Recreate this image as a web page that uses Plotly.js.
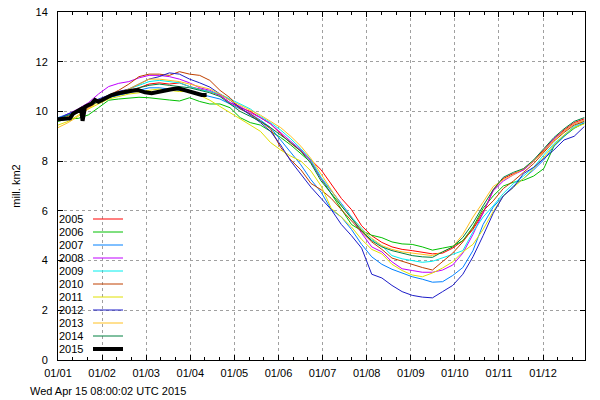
<!DOCTYPE html>
<html>
<head>
<meta charset="utf-8">
<script src="https://cdn.plot.ly/plotly-3.0.1.min.js"></script>
<style>html,body{margin:0;padding:0;background:#fff;}#chart{width:600px;height:400px;}</style>
</head>
<body>
<div id="chart"></div>
<script>
// Day of year (x), sampled weekly
const days = [0,7,14,21,28,35,42,49,56,63,70,77,84,91,98,105,112,119,126,133,140,147,154,161,168,175,182,189,196,203,210,217,224,231,238,245,252,259,266,273,280,287,294,301,308,315,322,329,336,343,350,357,364];

const y2005 = [9.7,9.85,10.0,10.2,10.4,10.6,10.75,10.85,10.95,11.1,11.15,11.1,11.15,11.0,10.9,10.8,10.65,10.35,10.15,10.0,9.75,9.5,9.1,8.72,8.4,8.05,7.65,7.05,6.5,6.05,5.4,5.0,4.73,4.55,4.45,4.4,4.33,4.27,4.3,4.5,4.8,5.25,5.9,6.85,7.3,7.5,7.65,8.0,8.45,8.9,9.25,9.55,9.7];
const y2006 = [9.6,9.7,9.72,9.86,10.15,10.45,10.5,10.55,10.57,10.55,10.52,10.46,10.42,10.55,10.4,10.3,10.3,10.15,9.75,9.55,9.45,9.2,8.95,8.65,8.3,7.95,7.3,6.7,6.05,5.45,5.2,5.02,4.92,4.75,4.67,4.65,4.55,4.42,4.5,4.58,4.8,5.35,6.1,6.6,7.0,7.15,7.23,7.4,7.7,8.6,9.0,9.32,9.53];
const y2007 = [9.75,9.9,10.05,10.2,10.4,10.55,10.65,10.75,10.85,10.95,10.95,10.9,10.85,10.8,10.7,10.6,10.5,10.3,10.1,9.9,9.65,9.35,8.85,8.35,7.85,7.25,6.75,6.05,5.75,5.25,4.65,4.15,3.85,3.65,3.5,3.35,3.25,3.13,3.15,3.4,3.72,4.4,5.45,6.15,6.6,7.0,7.3,7.65,8.05,8.6,9.0,9.35,9.55];
const y2008 = [9.7,9.9,10.1,10.35,10.7,11.0,11.13,11.2,11.35,11.45,11.45,11.4,11.3,11.15,10.95,10.85,10.65,10.35,10.2,9.95,9.75,9.5,9.15,8.8,8.45,8.0,7.3,6.8,6.3,5.75,5.1,4.55,4.35,3.95,3.67,3.6,3.53,3.53,3.62,3.82,4.3,5.05,5.9,6.8,7.2,7.45,7.65,8.0,8.4,8.9,9.2,9.5,9.65];
const y2009 = [9.7,9.85,10.05,10.25,10.45,10.6,10.75,10.9,11.05,11.2,11.25,11.2,11.15,11.0,10.88,10.8,10.7,10.5,10.3,10.1,9.8,9.55,9.25,8.9,8.5,8.05,7.35,6.8,6.25,5.75,5.3,4.85,4.6,4.2,4.07,4.0,3.93,3.97,4.1,4.25,4.4,5.15,5.75,6.2,6.7,7.1,7.4,7.75,8.25,8.7,9.05,9.4,9.6];
const y2010 = [9.65,9.8,9.95,10.15,10.4,10.65,10.85,11.1,11.4,11.5,11.5,11.45,11.6,11.5,11.45,11.25,10.85,10.55,10.1,9.9,9.6,9.3,8.55,8.05,7.65,7.1,6.85,6.5,6.05,5.6,5.15,4.75,4.45,4.1,3.97,3.85,3.72,3.62,3.95,4.3,4.75,5.3,6.0,6.4,6.9,7.2,7.55,7.9,8.35,8.8,9.15,9.45,9.6];
const y2011 = [9.45,9.6,9.85,10.1,10.3,10.5,10.6,10.7,10.75,10.85,10.9,10.85,10.8,10.8,10.65,10.45,10.2,9.95,9.7,9.45,9.2,8.75,8.45,8.2,8.0,7.6,7.0,6.1,5.75,5.35,4.85,4.45,4.27,3.85,3.6,3.42,3.35,3.5,3.7,3.95,4.35,4.65,5.25,5.97,6.6,6.95,7.3,7.7,8.15,8.65,9.05,9.35,9.5];
const y2012 = [9.7,9.9,10.05,10.3,10.5,10.65,10.8,10.9,11.1,11.3,11.4,11.55,11.5,11.3,11.15,10.98,10.7,10.45,10.15,9.85,9.55,9.2,8.65,8.0,7.45,6.95,6.5,6.05,5.45,5.0,4.5,3.45,3.3,3.0,2.75,2.6,2.53,2.5,2.75,3.0,3.45,4.15,5.0,5.9,6.6,6.95,7.5,7.75,8.1,8.45,8.85,9.0,9.39];
const y2013 = [9.35,9.55,9.8,10.1,10.4,10.6,10.75,10.9,11.1,11.3,11.3,11.25,11.2,11.1,11.0,10.9,10.7,10.45,10.25,10.05,9.85,9.6,9.35,9.0,8.6,8.1,7.5,6.85,6.2,5.7,5.25,4.9,4.6,4.45,4.35,4.3,4.25,4.2,4.35,4.55,5.05,5.75,6.35,6.98,7.25,7.45,7.7,8.0,8.4,8.85,9.2,9.5,9.65];
const y2014 = [9.7,9.85,10.0,10.2,10.4,10.55,10.7,10.8,10.95,11.05,11.1,11.05,11.0,10.95,10.85,10.75,10.6,10.3,10.0,9.8,9.6,9.35,9.05,8.75,8.4,7.9,7.2,6.7,6.2,5.7,5.2,4.8,4.55,4.4,4.3,4.2,4.15,4.13,4.35,4.55,4.93,5.5,6.2,6.85,7.35,7.55,7.7,8.05,8.5,8.95,9.3,9.6,9.75];

// 2015 (to mid April), denser sampling
const days2015 = [0,2.6,5.5,8.3,10.6,14,16,17,18.7,20.7,23.3,25.6,27.9,30.2,32.5,34.6,37.1,41.7,46.3,51,55.5,60.2,64.8,69.4,74,78.6,83.2,87.8,90.1,94.8,99.4,102.8];
const y2015 = [9.68,9.68,9.70,9.72,9.92,10.06,10.1,9.62,10.19,10.25,10.32,10.46,10.39,10.45,10.53,10.6,10.66,10.73,10.79,10.83,10.86,10.77,10.73,10.79,10.86,10.89,10.93,10.86,10.79,10.73,10.66,10.66];

const years = ['2005','2006','2007','2008','2009','2010','2011','2012','2013','2014','2015'];
const colors = ['#ff0000','#00c000','#0080ff','#c000ff','#00eeee','#c04000','#e0e000','#1c1cc8','#ffc020','#008040','#000000'];
const widths = [1,1,1,1,1,1,1,1,1,1,4];
const series = [y2005,y2006,y2007,y2008,y2009,y2010,y2011,y2012,y2013,y2014,y2015];

const tickText = ['01/01','01/02','01/03','01/04','01/05','01/06','01/07','01/08','01/09','01/10','01/11','01/12'];
const monthStep = 30.5;
const tickVals = tickText.map((_, i) => i * monthStep);
const minorVals = [];
for (let i = 0; i < 36; i++) { if (i % 3 !== 0) minorVals.push(i * monthStep / 3); }

const traces = series.map((ys, i) => ({
  x: i === 10 ? days2015 : days,
  y: ys,
  type: 'scatter',
  mode: 'lines',
  name: years[i],
  line: {color: colors[i], width: widths[i]},
  hoverinfo: 'skip'
}));

const font = {family: 'Liberation Sans, Arial, sans-serif', size: 11, color: '#000'};
const L = 58, R = 585, T = 12, B = 360;
const pw = R - L, ph = B - T;

const annotations = years.map((yr, i) => ({
  text: yr, xref: 'paper', yref: 'paper',
  x: (84.5 - L) / pw, y: (B - (219 + 13 * i)) / ph,
  xanchor: 'right', yanchor: 'middle', showarrow: false, font: font
}));
annotations.push({
  text: 'Wed Apr 15 08:00:02 UTC 2015', xref: 'paper', yref: 'paper',
  x: (28 - L) / pw, y: (B - 391) / ph, xanchor: 'left', yanchor: 'middle',
  showarrow: false, font: font
});

const shapes = years.map((yr, i) => ({
  type: 'line', xref: 'paper', yref: 'paper',
  x0: (93 - L) / pw, x1: (123 - L) / pw,
  y0: (B - (219 + 13 * i)) / ph, y1: (B - (219 + 13 * i)) / ph,
  line: {color: colors[i], width: widths[i]}
}));

const axisCommon = {
  showline: true, linecolor: '#000', linewidth: 1, mirror: 'allticks',
  ticks: 'inside', ticklen: 5, tickcolor: '#000', tickwidth: 1,
  showgrid: true, gridcolor: '#a0a0a0', griddash: '3px,3px', gridwidth: 1,
  zeroline: false, tickfont: font
};

const layout = {
  width: 600, height: 400,
  margin: {l: L, r: 600 - R, t: T, b: 400 - B},
  paper_bgcolor: '#fff', plot_bgcolor: '#fff',
  showlegend: false,
  xaxis: Object.assign({}, axisCommon, {
    range: [0, 364.5], tickmode: 'array', tickvals: tickVals, ticktext: tickText,
    ticklabelstandoff: 3,
    minor: {tickmode: 'array', tickvals: minorVals, ticks: 'inside', ticklen: 3, tickcolor: '#000', showgrid: false}
  }),
  yaxis: Object.assign({}, axisCommon, {
    range: [0, 14], tick0: 0, dtick: 2, ticklabelstandoff: 7,
    title: {text: 'mill. km2', font: font, standoff: 12}
  }),
  annotations: annotations,
  shapes: shapes
};

Plotly.newPlot('chart', traces, layout, {displayModeBar: false, staticPlot: true});
</script>
</body>
</html>
